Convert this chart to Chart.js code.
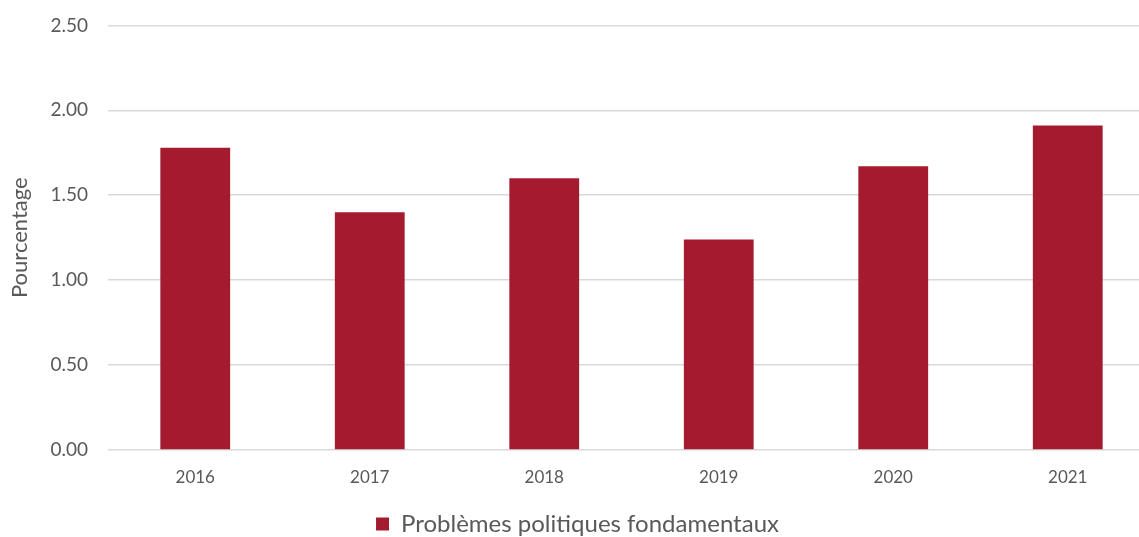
<!DOCTYPE html>
<html>
<head>
<meta charset="utf-8">
<script src="https://cdn.jsdelivr.net/npm/chart.js@4"></script>
<style>
  html, body { margin: 0; padding: 0; background: #fff; overflow: hidden; }
  #wrap { width: 1155px; height: 552px; margin-top: -6px; position: relative; }
</style>
</head>
<body>
<div id="wrap"><canvas id="chart"></canvas></div>
<script>
// ================= DATA =================
const years = ["2016", "2017", "2018", "2019", "2020", "2021"];
const values = [1.78, 1.40, 1.60, 1.24, 1.67, 1.91];
const seriesLabel = "Problèmes politiques fondamentaux";
const yTitle = "Pourcentage";

const BAR_COLOR = "#A41B2F";
const TEXT_COLOR = "#595959";
const GRID_COLOR = "#d9d9d9";
const FONT = "Lato, sans-serif";

// ================= CHART =================
const ctx = document.getElementById("chart").getContext("2d");

new Chart(ctx, {
    type: "bar",
    data: {
        labels: years,
        datasets: [{
            label: seriesLabel,
            data: values,
            backgroundColor: BAR_COLOR,
            barPercentage: 0.4,
            categoryPercentage: 1.0
        }]
    },
    options: {
        responsive: true,
        maintainAspectRatio: false,
        animation: false,
        layout: { padding: { top: 0, left: 0, right: 0, bottom: 0 } },
        plugins: {
            tooltip: { enabled: false },
            legend: {
                position: "bottom",
                labels: {
                    color: TEXT_COLOR,
                    font: { family: FONT, size: 24 },
                    boxWidth: 13,
                    boxHeight: 13,
                    padding: 4
                }
            }
        },
        scales: {
            x: {
                grid: { display: false },
                border: { display: false },
                ticks: {
                    color: TEXT_COLOR,
                    font: { family: FONT, size: 17 },
                    padding: 9
                },
                afterFit: scale => { scale.height = 58; }
            },
            y: {
                min: 0,
                max: 2.5,
                border: { display: false },
                grid: { color: GRID_COLOR, lineWidth: 1.5, drawTicks: false },
                ticks: {
                    stepSize: 0.5,
                    color: TEXT_COLOR,
                    font: { family: FONT, size: 19 },
                    padding: 20,
                    callback: v => Number(v).toFixed(2)
                },
                title: {
                    display: true,
                    text: yTitle,
                    color: TEXT_COLOR,
                    font: { family: FONT, size: 22 },
                    padding: { top: 7, bottom: 0 }
                },
                afterFit: scale => { scale.width = 108; }
            }
        }
    }
});
</script>
</body>
</html>
